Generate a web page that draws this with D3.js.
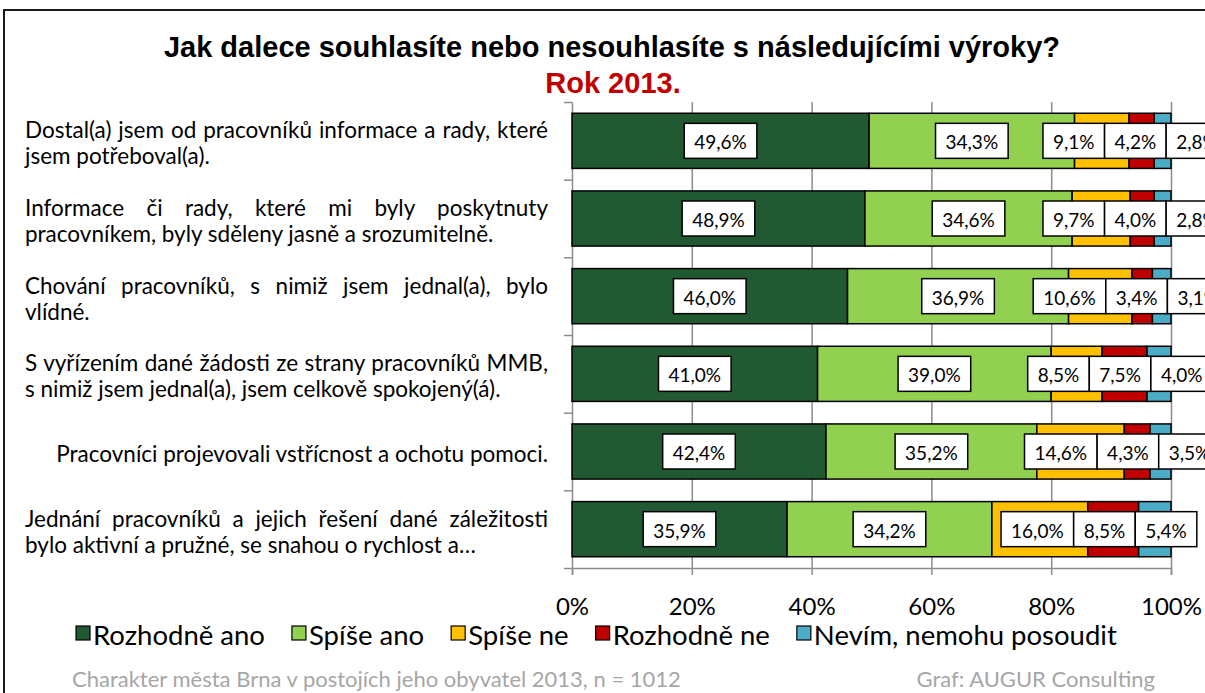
<!DOCTYPE html>
<html>
<head>
<meta charset="utf-8">
<script src="https://cdn.jsdelivr.net/npm/d3@7"></script>
<style>
  body { margin: 0; background: #ffffff; }
  svg { display: block; }
</style>
</head>
<body>
<svg id="chart" width="1205" height="693"></svg>
<script>
// Statements (split into the lines they wrap to)
const categoryLines = [
  ["Dostal(a) jsem od pracovníků informace a rady, které", "jsem potřeboval(a)."],
  ["Informace či rady, které mi byly poskytnuty", "pracovníkem, byly sděleny jasně a srozumitelně."],
  ["Chování pracovníků, s nimiž jsem jednal(a), bylo", "vlídné."],
  ["S vyřízením dané žádosti ze strany pracovníků MMB,", "s nimiž jsem jednal(a), jsem celkově spokojený(á)."],
  ["Pracovníci projevovali vstřícnost a ochotu pomoci."],
  ["Jednání pracovníků a jejich řešení dané záležitosti", "bylo aktivní a pružné, se snahou o rychlost a…"]
];

// Answer categories
const seriesNames = ["Rozhodně ano", "Spíše ano", "Spíše ne", "Rozhodně ne", "Nevím, nemohu posoudit"];

// Shares in percent, one value per statement
const rozhodneAno = [49.6, 48.9, 46.0, 41.0, 42.4, 35.9];
const spiseAno    = [34.3, 34.6, 36.9, 39.0, 35.2, 34.2];
const spiseNe     = [9.1, 9.7, 10.6, 8.5, 14.6, 16.0];
const rozhodneNe  = [4.2, 4.0, 3.4, 7.5, 4.3, 8.5];
const nevim       = [2.8, 2.8, 3.1, 4.0, 3.5, 5.4];

const tickValues = [0, 20, 40, 60, 80, 100];
const tickLabels = ["0%", "20%", "40%", "60%", "80%", "100%"];

const titleText = "Jak dalece souhlasíte nebo nesouhlasíte s následujícími výroky?";
const subtitleText = "Rok 2013.";
const sourceText = "Charakter města Brna v postojích jeho obyvatel 2013, n = 1012";
const creditText = "Graf: AUGUR Consulting";

// ---- styling ----
const seriesColors = ["#215a32", "#92d050", "#ffc000", "#c00000", "#4bacc6"];
const bodyFont = "Lato, 'Open Sans', sans-serif";
const titleFont = "'Liberation Sans', Arial, sans-serif";
const gridColor = "#8c8c8c";

const allSeries = [rozhodneAno, spiseAno, spiseNe, rozhodneNe, nevim];
const table = categoryLines.map((lines, i) => {
  const row = { index: i };
  seriesNames.forEach((s, k) => { row[s] = allSeries[k][i]; });
  return row;
});

const svg = d3.select("#chart");
const plot = { left: 572, right: 1171, top: 102, bottom: 568 };

const x = d3.scaleLinear().domain([0, 100]).range([plot.left, plot.right]);
const y = d3.scaleBand()
  .domain(d3.range(categoryLines.length))
  .range([plot.top, plot.bottom])
  .paddingInner(0.29)
  .paddingOuter(0.145);
const yEdge = d3.scaleLinear().domain([0, categoryLines.length]).range([plot.top, plot.bottom]);
const color = d3.scaleOrdinal().domain(seriesNames).range(seriesColors);

svg.append("rect").attr("width", 1205).attr("height", 693).attr("fill", "#fff");

// outer chart frame
svg.append("path")
  .attr("d", "M4,693V10H1205")
  .attr("fill", "none")
  .attr("stroke", "#1a1a1a")
  .attr("stroke-width", 2);

// title
svg.append("text")
  .attr("x", 612).attr("y", 57)
  .attr("text-anchor", "middle")
  .attr("font-family", titleFont)
  .attr("font-weight", "bold")
  .attr("font-size", 29)
  .attr("fill", "#000")
  .text(titleText);
svg.append("text")
  .attr("x", 613).attr("y", 93)
  .attr("text-anchor", "middle")
  .attr("font-family", titleFont)
  .attr("font-weight", "bold")
  .attr("font-size", 29)
  .attr("fill", "#c00000")
  .text(subtitleText);

// vertical gridlines
svg.append("g")
  .attr("transform", `translate(0,${plot.bottom})`)
  .call(d3.axisBottom(x).tickValues(tickValues.slice(1)).tickSize(-(plot.bottom - plot.top)).tickFormat(""))
  .call(g => g.select(".domain").remove())
  .call(g => g.selectAll("line").attr("stroke", gridColor).attr("stroke-width", 1.5));

// bottom axis
const xAxis = svg.append("g")
  .attr("transform", `translate(0,${plot.bottom})`)
  .call(d3.axisBottom(x).tickValues(tickValues).tickSize(7).tickPadding(23)
    .tickFormat((d, i) => tickLabels[i]));
xAxis.select(".domain").attr("stroke", gridColor).attr("stroke-width", 1.5);
xAxis.selectAll("line").attr("stroke", gridColor).attr("stroke-width", 1.5);
xAxis.selectAll("text")
  .attr("font-family", bodyFont)
  .attr("font-size", 24)
  .attr("fill", "#000");

// left axis with ticks between the categories
const yAxis = svg.append("g")
  .attr("transform", `translate(${plot.left},0)`)
  .call(d3.axisLeft(yEdge).tickValues(d3.range(categoryLines.length + 1)).tickSize(8).tickFormat("").tickSizeOuter(0));
yAxis.select(".domain").attr("stroke", gridColor).attr("stroke-width", 1.5);
yAxis.selectAll("line").attr("stroke", gridColor).attr("stroke-width", 1.5);

// stacked bars
const stacked = d3.stack().keys(seriesNames)(table);
svg.append("g")
  .selectAll("g")
  .data(stacked)
  .join("g")
  .attr("fill", d => color(d.key))
  .selectAll("rect")
  .data(d => d)
  .join("rect")
  .attr("x", d => x(d[0]))
  .attr("y", d => y(d.data.index))
  .attr("width", d => x(d[1]) - x(d[0]))
  .attr("height", y.bandwidth())
  .attr("stroke", "#000")
  .attr("stroke-width", 1.5);

// value labels in white boxes; neighbouring boxes that would overlap are spread apart
const fmt = v => v.toFixed(1).replace(".", ",") + "%";
const labelLayer = svg.append("g");
const boxH = 35, padX = 10;
table.forEach((row, i) => {
  const cy = y(i) + y.bandwidth() / 2;
  const g = labelLayer.append("g");
  const items = stacked.map(layer => {
    const seg = layer[i];
    const t = g.append("text")
      .attr("font-family", bodyFont)
      .attr("font-size", 19)
      .attr("text-anchor", "middle")
      .attr("dominant-baseline", "central")
      .attr("fill", "#000")
      .text(fmt(seg[1] - seg[0]));
    const w = t.node().getComputedTextLength() + 2 * padX;
    return { t, w, d: x((seg[0] + seg[1]) / 2) };
  });
  // 1-D cluster placement
  let clusters = items.map(it => ({ items: [it] }));
  const place = c => {
    let off = 0;
    const rel = c.items.map(it => { const o = off + it.w / 2; off += it.w; return o; });
    c.left = d3.mean(c.items.map((it, k) => it.d - rel[k]));
    c.width = off;
    c.items.forEach((it, k) => { it.c = c.left + rel[k]; });
  };
  clusters.forEach(place);
  let merged = true;
  while (merged) {
    merged = false;
    for (let k = 0; k < clusters.length - 1; k++) {
      const a = clusters[k], b = clusters[k + 1];
      if (a.left + a.width > b.left + 0.5) {
        const c = { items: a.items.concat(b.items) };
        place(c);
        clusters.splice(k, 2, c);
        merged = true;
        break;
      }
    }
  }
  items.forEach(it => {
    g.insert("rect", () => it.t.node())
      .attr("x", it.c - it.w / 2)
      .attr("y", cy - boxH / 2)
      .attr("width", it.w)
      .attr("height", boxH)
      .attr("fill", "#fff")
      .attr("stroke", "#000")
      .attr("stroke-width", 1.5);
    it.t.attr("x", it.c).attr("y", cy + 1);
  });
});

// category labels, justified like a text block between x=25 and x=548
const labelLeft = 25, labelRight = 548, lineGap = 26;
categoryLines.forEach((lines, i) => {
  const cy = y(i) + y.bandwidth() / 2 + 2;
  lines.forEach((line, k) => {
    const ly = cy + (k - (lines.length - 1) / 2) * lineGap;
    const t = svg.append("text")
      .attr("font-family", bodyFont)
      .attr("font-size", 22.5)
      .attr("dominant-baseline", "central")
      .attr("fill", "#000")
      .attr("y", ly)
      .text(line);
    if (lines.length === 1) {
      t.attr("x", labelRight).attr("text-anchor", "end");
    } else if (k < lines.length - 1) {
      const natural = t.node().getComputedTextLength();
      const spaces = (line.match(/ /g) || []).length;
      t.attr("x", labelLeft)
        .style("word-spacing", spaces ? ((labelRight - labelLeft - natural) / spaces) + "px" : null);
    } else {
      t.attr("x", labelLeft);
    }
  });
});

// legend
const legend = svg.append("g");
let lx = 76;
seriesNames.forEach((s, k) => {
  legend.append("rect")
    .attr("x", lx).attr("y", 626)
    .attr("width", 14).attr("height", 14)
    .attr("fill", color(s))
    .attr("stroke", "#000")
    .attr("stroke-width", 1.2);
  const t = legend.append("text")
    .attr("x", lx + 17).attr("y", 634)
    .attr("dominant-baseline", "central")
    .attr("font-family", bodyFont)
    .attr("font-size", 27.5)
    .attr("fill", "#000")
    .text(s);
  lx += 17 + t.node().getComputedTextLength() + 27;
});

// footer
svg.append("text")
  .attr("x", 72).attr("y", 678)
  .attr("dominant-baseline", "central")
  .attr("font-family", bodyFont)
  .attr("font-size", 22)
  .attr("fill", "#a6a6a6")
  .text(sourceText);
svg.append("text")
  .attr("x", 1155).attr("y", 678)
  .attr("text-anchor", "end")
  .attr("dominant-baseline", "central")
  .attr("font-family", bodyFont)
  .attr("font-size", 22)
  .attr("fill", "#a6a6a6")
  .text(creditText);
</script>
</body>
</html>
